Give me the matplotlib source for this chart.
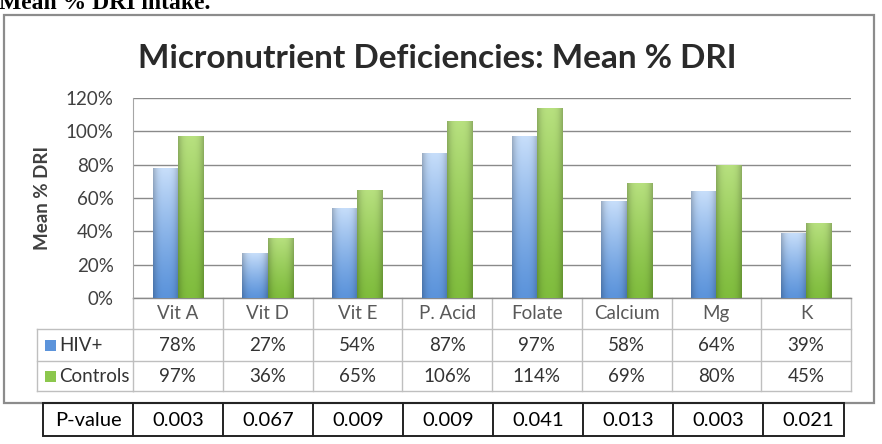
import numpy as np
import matplotlib.pyplot as plt
import matplotlib.transforms as mtransforms
from matplotlib.patches import Rectangle
from matplotlib.ticker import FuncFormatter

# data
categories = ["Vit A", "Vit D", "Vit E", "P. Acid", "Folate", "Calcium", "Mg", "K"]
hiv = [78, 27, 54, 87, 97, 58, 64, 39]
controls = [97, 36, 65, 106, 114, 69, 80, 45]
p_values = ["0.003", "0.067", "0.009", "0.009", "0.041", "0.013", "0.003", "0.021"]
series_names = ["HIV+", "Controls"]

FONT = "Lato"
W, H = 882, 444

fig = plt.figure(figsize=(W / 100, H / 100), dpi=100)
# pixel coordinates (origin top-left) -> figure
pix = mtransforms.Affine2D().scale(1 / W, -1 / H).translate(0, 1) + fig.transFigure

# caption cut off at the top of the image
fig.text(-1, 9, "Mean % DRI intake.", transform=pix, family="Liberation Serif",
         fontweight="bold", fontsize=17, va="baseline", ha="left")

# chart frame
fig.patches.append(Rectangle((4, 15), 870, 388, transform=pix, fill=False,
                             edgecolor="#8c8c8c", linewidth=1.6))

ax = fig.add_axes([133 / W, 1 - 298 / H, (851 - 133) / W, 200 / H])
x = np.arange(len(categories))
bw = 0.28


def gradient_bar(xc, h, dark, light):
    bar = ax.bar(xc, h, width=bw, color="none", edgecolor="none", zorder=3)[0]
    ny, nx = 64, 32
    t = np.linspace(1, 0, ny)[:, None]          # 1 at top
    s = np.abs(np.linspace(-1, 1, nx))[None, :]
    edge = 1 - 0.22 * s ** 3
    dark = np.array(dark)[None, None, :]
    light = np.array(light)[None, None, :]
    img = dark + (light - dark) * t[..., None] ** 1.2
    img = img * edge[..., None]
    im = ax.imshow(np.clip(img, 0, 1), extent=[xc - bw / 2, xc + bw / 2, 0, h],
                   aspect="auto", zorder=3, interpolation="bilinear")
    im.set_clip_path(bar)


blue_dark, blue_light = (0.36, 0.58, 0.86), (0.78, 0.87, 0.98)
green_dark, green_light = (0.50, 0.74, 0.24), (0.72, 0.88, 0.50)
for i in range(len(categories)):
    gradient_bar(x[i] - bw / 2, hiv[i], blue_dark, blue_light)
    gradient_bar(x[i] + bw / 2, controls[i], green_dark, green_light)

ax.set_xlim(-0.5, len(categories) - 0.5)
ax.set_ylim(0, 120)
ax.set_yticks(range(0, 121, 20))
ax.yaxis.set_major_formatter(FuncFormatter(lambda v, p: f"{v:.0f}%"))
ax.tick_params(axis="y", length=0, pad=14, labelsize=13.5, labelcolor="#404040")
ax.tick_params(axis="x", length=0, labelbottom=False)
for lbl in ax.get_yticklabels():
    lbl.set_family(FONT)
ax.yaxis.grid(True, color="#8a8a8a", linewidth=1)
ax.set_axisbelow(True)
for side in ["top", "right", "bottom"]:
    ax.spines[side].set_visible(False)
ax.spines["left"].set_color("#a6a6a6")
ax.set_ylabel("Mean % DRI", family=FONT, fontweight="bold", fontsize=13.5,
              color="#404040")
ax.yaxis.set_label_coords(-0.114, 0.5)

fig.text(437, 68, "Micronutrient Deficiencies: Mean % DRI", transform=pix,
         family=FONT, fontweight="bold", fontsize=24, color="#2a2a2a",
         ha="center", va="baseline")

# data table under the plot (x follows the category axis)
tb = ax.get_xaxis_transform()
grid_c = "#bfbfbf"
row_y = [0, -31 / 200, -63 / 200, -93 / 200]
for b in np.arange(-0.5, len(categories)):
    ax.plot([b, b], [row_y[0], row_y[-1]], transform=tb, color=grid_c, lw=1, clip_on=False)
for yy in row_y[1:]:
    ax.plot([-0.5, len(categories) - 0.5], [yy, yy], transform=tb, color=grid_c, lw=1, clip_on=False)
ax.plot([-0.5, len(categories) - 0.5], [0, 0], transform=tb, color="#8a8a8a", lw=1, clip_on=False)

rows = [hiv, controls]
for i, c in enumerate(categories):
    ax.text(x[i], (row_y[0] + row_y[1]) / 2, c, transform=tb, ha="center", va="center",
            family=FONT, fontsize=13.5, color="#595959")
    for r, vals in enumerate(rows):
        ax.text(x[i], (row_y[r + 1] + row_y[r + 2]) / 2, f"{vals[i]}%", transform=tb,
                ha="center", va="center", family=FONT, fontsize=13.5, color="#333333")

# legend column of the data table
fig.lines.append(plt.Line2D([37, 133], [329, 329], transform=pix, color=grid_c, lw=1))
fig.lines.append(plt.Line2D([37, 133], [361, 361], transform=pix, color=grid_c, lw=1))
fig.lines.append(plt.Line2D([37, 133], [391, 391], transform=pix, color=grid_c, lw=1))
fig.lines.append(plt.Line2D([37, 37], [329, 391], transform=pix, color=grid_c, lw=1))
for r, (name, col) in enumerate(zip(series_names, [(0.36, 0.58, 0.86), (0.55, 0.78, 0.30)])):
    yc = 345 + 31 * r
    fig.patches.append(Rectangle((45, yc - 5), 11, 11, transform=pix, facecolor=col,
                                 edgecolor="none"))
    fig.text(59, yc, name, transform=pix, family=FONT, fontsize=13.5, color="#333333",
             ha="left", va="center")

# p-value table below the chart
fig.patches.append(Rectangle((43, 403), 801, 33, transform=pix, fill=False,
                             edgecolor="#222222", linewidth=1.4))
for i in range(len(p_values)):
    xb = 133 + 90 * i
    fig.lines.append(plt.Line2D([xb, xb], [403, 436], transform=pix, color="#222222", lw=1.4))
    fig.text(xb + 45, 420, p_values[i], transform=pix, family=FONT, fontsize=14.5,
             color="black", ha="center", va="center")
fig.text(88, 420, "P-value", transform=pix, family=FONT, fontsize=14.5, color="black",
         ha="center", va="center")

fig.savefig("out.png", dpi=100)
